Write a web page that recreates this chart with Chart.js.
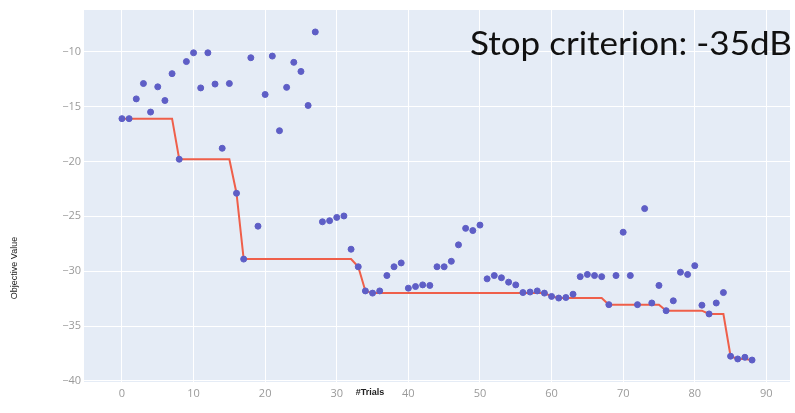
<!DOCTYPE html>
<html>
<head>
<meta charset="utf-8">
<script src="https://cdn.jsdelivr.net/npm/chart.js@4.4.1/dist/chart.umd.min.js"></script>
<style>
  html, body { margin: 0; padding: 0; background: #fff; }
  #wrap { width: 795px; height: 413px; position: relative; }
</style>
</head>
<body>
<div id="wrap"><canvas id="chart" width="795" height="413"></canvas></div>
<script>
// dati: numero trial, valore obiettivo, miglior valore
const trials = [
  0, 1, 2, 3, 4, 5, 6, 7, 8, 9,
  10, 11, 12, 13, 14, 15, 16, 17, 18, 19,
  20, 21, 22, 23, 24, 25, 26, 27, 28, 29,
  30, 31, 32, 33, 34, 35, 36, 37, 38, 39,
  40, 41, 42, 43, 44, 45, 46, 47, 48, 49,
  50, 51, 52, 53, 54, 55, 56, 57, 58, 59,
  60, 61, 62, 63, 64, 65, 66, 67, 68, 69,
  70, 71, 72, 73, 74, 75, 76, 77, 78, 79,
  80, 81, 82, 83, 84, 85, 86, 87, 88
];

const objectiveValues = [
  -16.1, -16.1, -14.3, -12.9, -15.5, -13.2, -14.45, -12.0, -19.8, -10.9,
  -10.1, -13.3, -10.1, -12.95, -18.8, -12.9, -22.9, -28.9, -10.55, -25.9,
  -13.9, -10.4, -17.2, -13.25, -10.97, -11.8, -14.9, -8.2, -25.5, -25.4,
  -25.1, -24.97, -28.0, -29.6, -31.8, -32.0, -31.8, -30.4, -29.6, -29.25,
  -31.55, -31.4, -31.25, -31.3, -29.6, -29.6, -29.1, -27.6, -26.1, -26.3,
  -25.8, -30.7, -30.4, -30.6, -31.0, -31.25, -31.95, -31.9, -31.8, -32.0,
  -32.3, -32.45, -32.4, -32.1, -30.5, -30.3, -30.4, -30.5, -33.05, -30.4,
  -26.45, -30.4, -33.05, -24.3, -32.9, -31.3, -33.6, -32.7, -30.1, -30.3,
  -29.5, -33.1, -33.9, -32.9, -31.95, -37.75, -38.0, -37.85, -38.1
];

const bestValues = [
  -16.1, -16.1, -16.1, -16.1, -16.1, -16.1, -16.1, -16.1, -19.8, -19.8,
  -19.8, -19.8, -19.8, -19.8, -19.8, -19.8, -22.9, -28.9, -28.9, -28.9,
  -28.9, -28.9, -28.9, -28.9, -28.9, -28.9, -28.9, -28.9, -28.9, -28.9,
  -28.9, -28.9, -28.9, -29.6, -31.8, -32.0, -32.0, -32.0, -32.0, -32.0,
  -32.0, -32.0, -32.0, -32.0, -32.0, -32.0, -32.0, -32.0, -32.0, -32.0,
  -32.0, -32.0, -32.0, -32.0, -32.0, -32.0, -32.0, -32.0, -32.0, -32.0,
  -32.3, -32.45, -32.45, -32.45, -32.45, -32.45, -32.45, -32.45, -33.05, -33.05,
  -33.05, -33.05, -33.05, -33.05, -33.05, -33.05, -33.6, -33.6, -33.6, -33.6,
  -33.6, -33.6, -33.9, -33.9, -33.9, -37.75, -38.0, -38.0, -38.1
];

// etichette degli assi
const xTicks = [0, 10, 20, 30, 40, 50, 60, 70, 80, 90];
const yTicks = [-40, -35, -30, -25, -20, -15, -10];

// testi sovrapposti (titolo e etichette assi)
const overlayText = {
  id: "overlayText",
  beforeDraw(chart) {
    const { ctx, chartArea } = chart;
    ctx.save();
    ctx.fillStyle = "#e5ecf6";
    ctx.fillRect(chartArea.left, chartArea.top, chartArea.right - chartArea.left, chartArea.bottom - chartArea.top);
    ctx.restore();
  },
  afterDraw(chart) {
    const ctx = chart.ctx;
    ctx.save();

    // scritta grande in alto a destra, portata a 322px di larghezza
    ctx.font = "33px Lato";
    const w = ctx.measureText("Stop criterion: -35dB").width;
    ctx.fillStyle = "#111";
    ctx.textAlign = "left";
    ctx.textBaseline = "alphabetic";
    ctx.save();
    ctx.translate(470, 55);
    ctx.scale(322 / w, 1);
    ctx.fillText("Stop criterion: -35dB", 0, 0);
    ctx.restore();

    // etichetta asse X
    ctx.font = "bold 9px 'Liberation Sans'";
    ctx.fillStyle = "#222";
    ctx.textAlign = "center";
    ctx.textBaseline = "middle";
    ctx.fillText("#Trials", 370, 393);

    // etichetta asse Y
    ctx.translate(15, 268);
    ctx.rotate(-Math.PI / 2);
    ctx.font = "9px 'Liberation Sans'";
    ctx.fillText("Objective Value", 0, 0);
    ctx.restore();
  }
};

new Chart(document.getElementById("chart"), {
  type: "scatter",
  data: {
    datasets: [
      {
        label: "Best Value",
        type: "line",
        data: trials.map((t, i) => ({ x: t, y: bestValues[i] })),
        borderColor: "#ef5f4a",
        borderWidth: 2,
        pointRadius: 0,
        fill: false,
        tension: 0,
        order: 2
      },
      {
        label: "Objective Value",
        data: trials.map((t, i) => ({ x: t, y: objectiveValues[i] })),
        backgroundColor: "#5e5ec6",
        borderColor: "#5e5ec6",
        pointRadius: 3,
        order: 1
      }
    ]
  },
  options: {
    responsive: false,
    animation: false,
    layout: { padding: { top: 10, right: 3, left: 0, bottom: 0 } },
    plugins: {
      legend: { display: false },
      tooltip: { enabled: false }
    },
    scales: {
      x: {
        type: "linear",
        min: -5.3,
        max: 93.3,
        afterFit: s => { s.height = 31; },
        afterBuildTicks: s => { s.ticks = xTicks.map(v => ({ value: v })); },
        grid: { color: "#ffffff", lineWidth: 1, drawTicks: false },
        border: { display: false },
        ticks: {
          padding: 5,
          color: "#9a9a9a",
          font: { family: "'Open Sans'", size: 11 }
        }
      },
      y: {
        min: -40.1,
        max: -6.2,
        afterFit: s => { s.width = 84; },
        afterBuildTicks: s => { s.ticks = yTicks.map(v => ({ value: v })); },
        grid: { color: "#ffffff", lineWidth: 1, drawTicks: false },
        border: { display: false },
        ticks: {
          padding: 3,
          color: "#9a9a9a",
          font: { family: "'Open Sans'", size: 11 },
          callback: v => String(v).replace("-", "\u2212")
        }
      }
    }
  },
  plugins: [overlayText]
});
</script>
</body>
</html>
